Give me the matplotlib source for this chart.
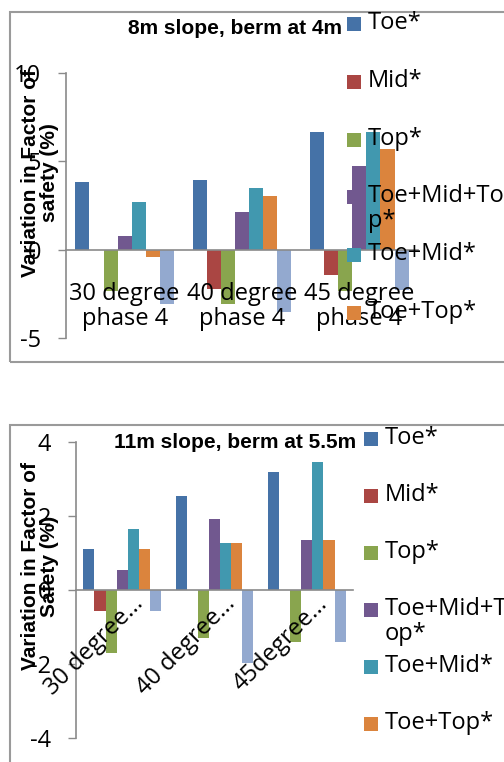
import numpy as np
import matplotlib
matplotlib.use('Agg')
import matplotlib.pyplot as plt
from matplotlib.patches import Rectangle
from matplotlib.transforms import ScaledTranslation

# ---- data ----
series = ['Toe*', 'Mid*', 'Top*', 'Toe+Mid+Top*', 'Toe+Mid*', 'Toe+Top*', 'series7']
colors = ['#4572A7', '#AA4643', '#89A54E', '#71588F', '#4198AF', '#DB843D', '#93A9CF']

cats_8m = ['30 degree\nphase 4', '40 degree\nphase 4', '45 degree\nphase 4']
vals_8m = [
    [3.85, 3.95, 6.65],      # Toe*
    [0.0, -2.2, -1.45],      # Mid*
    [-2.35, -3.1, -2.35],    # Top*
    [0.75, 2.15, 4.75],      # Toe+Mid+Top*
    [2.7, 3.5, 6.65],        # Toe+Mid*
    [-0.4, 3.05, 5.7],       # Toe+Top*
    [-3.1, -3.55, -2.3],     # series 7 (not in the visible legend)
]
legend_8m = ['Toe*', 'Mid*', 'Top*', 'Toe+Mid+To\np*', 'Toe+Mid*', 'Toe+Top*']

cats_11m = ['30 degree...', '40 degree...', '45degree...']
vals_11m = [
    [1.1, 2.55, 3.18],
    [-0.58, 0.0, 0.0],
    [-1.7, -1.3, -1.4],
    [0.55, 1.92, 1.36],
    [1.66, 1.27, 3.45],
    [1.1, 1.27, 1.36],
    [-0.56, -1.97, -1.4],
]
legend_11m = ['Toe*', 'Mid*', 'Top*', 'Toe+Mid+T\nop*', 'Toe+Mid*', 'Toe+Top*']

W, H = 504, 762
fig = plt.figure(figsize=(W / 100, H / 100), dpi=100)

GRAY = '#8a8a8a'
SANS = 'Open Sans'
BOLD = 'Liberation Sans'
FS = 17


def px_box(x0, y0, x1, y1):
    # pixel box (top-left origin) -> figure fraction [l, b, w, h]
    return [x0 / W, 1 - y1 / H, (x1 - x0) / W, (y1 - y0) / H]


def draw_chart(box, frame, ylim, yticks, cats, vals, legend_labels, title,
               title_y, ylab, ylab_y, leg_x, leg_y0, leg_dy, rotated):
    # outer frame of the excel chart
    fl, fb, fw, fh = px_box(*frame)
    fig.patches.append(Rectangle((fl, fb), fw, fh, transform=fig.transFigure,
                                 fill=False, edgecolor='#9a9a9a', linewidth=1.5))

    ax = fig.add_axes(px_box(*box))
    x = np.arange(len(cats))
    bw = 0.12
    for j, v in enumerate(vals):
        ax.bar(x + bw * (j - 3), v, width=bw, color=colors[j], zorder=2)

    ax.set_xlim(-0.5, len(cats) - 0.5)
    ax.set_ylim(*ylim)
    ax.set_yticks(yticks)
    ax.set_yticklabels([str(t) for t in yticks], fontsize=FS, family=SANS)
    ax.tick_params(axis='y', direction='out', length=6, width=1, color=GRAY, pad=12)
    ax.spines['bottom'].set_position(('data', 0))
    for s in ['top', 'right']:
        ax.spines[s].set_visible(False)
    for s in ['left', 'bottom']:
        ax.spines[s].set_color(GRAY)
        ax.spines[s].set_linewidth(1.2)
    ax.set_xticks([])
    ax.patch.set_alpha(0)

    if rotated:
        for i, c in enumerate(cats):
            ax.text(i + 0.28, -0.05, c, rotation=45, ha='right', va='top',
                    fontsize=FS, family=SANS, zorder=5)
    else:
        for i, c in enumerate(cats):
            ax.text(i, 0, c, ha='center', va='top', fontsize=FS, family=SANS,
                    linespacing=1.05, zorder=5,
                    transform=ax.transData + ScaledTranslation(0, -0.32, fig.dpi_scale_trans))

    fig.text(235 / W, 1 - title_y / H, title, ha='center', va='center',
             fontsize=15, fontweight='bold', family=BOLD)
    fig.text(40 / W, 1 - ylab_y / H, ylab, rotation=90, ha='center', va='center',
             fontsize=15, fontweight='bold', family=BOLD, linespacing=1.0,
             multialignment='center')

    # legend drawn by hand (excel wraps the long label and keeps row spacing)
    for j, lab in enumerate(legend_labels):
        cy = leg_y0 + j * leg_dy
        fig.patches.append(Rectangle((leg_x / W, 1 - (cy + 7) / H), 14 / W, 14 / H,
                                     transform=fig.transFigure,
                                     facecolor=colors[j], edgecolor='none'))
        fig.text((leg_x + 21) / W, 1 - (cy - 13) / H, lab, ha='left', va='top',
                 fontsize=FS, family=SANS, linespacing=1.05)
    return ax


draw_chart(box=(66, 73, 418, 338), frame=(10, 12, 520, 362),
           ylim=(-5, 10), yticks=[-5, 0, 5, 10], cats=cats_8m, vals=vals_8m,
           legend_labels=legend_8m, title='8m slope, berm at 4m', title_y=28,
           ylab='Variation in Factor of\nsafety (%)', ylab_y=173,
           leg_x=347, leg_y0=24, leg_dy=57.8, rotated=False)

draw_chart(box=(76, 442, 353, 738), frame=(10, 425, 520, 775),
           ylim=(-4, 4), yticks=[-4, -2, 0, 2, 4], cats=cats_11m, vals=vals_11m,
           legend_labels=legend_11m, title='11m slope, berm at 5.5m', title_y=442,
           ylab='Variation in Factor of\nSafety (%)', ylab_y=566,
           leg_x=364, leg_y0=439, leg_dy=57, rotated=True)

fig.savefig('out.png', dpi=100)
